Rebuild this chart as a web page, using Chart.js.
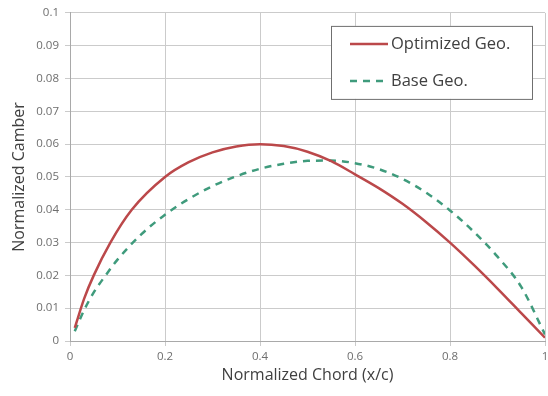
<!DOCTYPE html>
<html>
<head>
<meta charset="utf-8">
<script src="https://cdn.jsdelivr.net/npm/chart.js@4/dist/chart.umd.min.js"></script>
<style>
  html, body { margin: 0; padding: 0; background: #fff; }
  #wrap { width: 548px; height: 396px; }
</style>
</head>
<body>
<div id="wrap"><canvas id="camberChart"></canvas></div>
<script>
// chord positions (x/c) and camber values
var optX = [0.01, 0.03, 0.05, 0.085, 0.13, 0.2, 0.25, 0.3, 0.35, 0.4, 0.45, 0.5, 0.55, 0.6, 0.65, 0.7, 0.75, 0.8, 0.85, 0.9, 0.95, 1.0];
var optY = [0.004, 0.013, 0.020, 0.030, 0.040, 0.050, 0.0545, 0.0575, 0.0593, 0.060, 0.0594, 0.0577, 0.0548, 0.0508, 0.0466, 0.0418, 0.0362, 0.030, 0.0232, 0.0160, 0.0085, 0.001];

var baseX = [0.01, 0.03, 0.05, 0.075, 0.1, 0.15, 0.2, 0.25, 0.3, 0.35, 0.4, 0.45, 0.5, 0.55, 0.6, 0.65, 0.7, 0.75, 0.8, 0.85, 0.9, 0.95, 1.0];
var baseY = [0.003, 0.0095, 0.0148, 0.020, 0.0248, 0.0325, 0.0385, 0.0433, 0.0472, 0.0502, 0.0525, 0.054, 0.0549, 0.055, 0.0542, 0.0524, 0.0494, 0.0452, 0.0398, 0.0333, 0.0257, 0.0165, 0.002];

var seriesNames = ["Optimized Geo.", "Base Geo."];

var xTicks = [0, 0.2, 0.4, 0.6, 0.8, 1];
var xTickLabels = ["0", "0.2", "0.4", "0.6", "0.8", "1"];
var yTicks = [0, 0.01, 0.02, 0.03, 0.04, 0.05, 0.06, 0.07, 0.08, 0.09, 0.1];
var yTickLabels = ["0", "0.01", "0.02", "0.03", "0.04", "0.05", "0.06", "0.07", "0.08", "0.09", "0.1"];

function toPoints(xs, ys) {
    return xs.map(function (x, i) { return { x: x, y: ys[i] }; });
}

var FONT = "'Open Sans', 'Liberation Sans', sans-serif";
var gridColor = '#cbcbcb';

// boxed legend drawn inside the plot, upper right
var boxLegend = {
    id: 'boxLegend',
    afterDraw: function (chart) {
        var ctx = chart.ctx;
        var area = chart.chartArea;
        var right = area.right - 13, top = area.top + 13;
        var w = 201, h = 73;
        var left = right - w;
        ctx.save();
        ctx.fillStyle = '#fff';
        ctx.fillRect(left, top, w, h);
        ctx.strokeStyle = '#6f6f6f';
        ctx.lineWidth = 1;
        ctx.strokeRect(left + 0.5, top + 0.5, w, h);
        ctx.font = '16.5px ' + FONT;
        ctx.textBaseline = 'middle';
        chart.data.datasets.forEach(function (ds, i) {
            var y = top + 18 + i * 37;
            ctx.beginPath();
            ctx.strokeStyle = ds.borderColor;
            ctx.lineWidth = ds.borderWidth;
            ctx.setLineDash(ds.borderDash || []);
            ctx.moveTo(left + 19, y);
            ctx.lineTo(left + 57, y);
            ctx.stroke();
            ctx.setLineDash([]);
            ctx.fillStyle = '#404040';
            ctx.fillText(ds.label, left + 60, y);
        });
        ctx.restore();
    }
};

var chart = new Chart(document.getElementById('camberChart'), {
    type: 'scatter',
    data: {
        datasets: [{
            label: seriesNames[0],
            data: toPoints(optX, optY),
            showLine: true,
            borderColor: '#bb484a',
            borderWidth: 2.5,
            pointRadius: 0,
            cubicInterpolationMode: 'monotone'
        }, {
            label: seriesNames[1],
            data: toPoints(baseX, baseY),
            showLine: true,
            borderColor: '#3f9b7c',
            borderWidth: 2.5,
            borderDash: [7, 6],
            pointRadius: 0,
            cubicInterpolationMode: 'monotone'
        }]
    },
    options: {
        responsive: true,
        maintainAspectRatio: false,
        animation: false,
        layout: { padding: { left: 0, right: 3, top: 12, bottom: 0 } },
        plugins: {
            legend: { display: false },
            tooltip: { enabled: false }
        },
        scales: {
            x: {
                type: 'linear',
                min: 0,
                max: 1,
                afterBuildTicks: function (scale) {
                    scale.ticks = xTicks.map(function (v) { return { value: v }; });
                },
                afterFit: function (scale) {
                    scale.height = 55;
                    scale.paddingRight = 0;
                    scale.paddingLeft = 0;
                },
                ticks: {
                    callback: function (v) { return xTickLabels[xTicks.indexOf(v)]; },
                    color: '#6e6e6e',
                    font: { family: FONT, size: 11.5 },
                    padding: 4,
                    maxRotation: 0
                },
                grid: { color: gridColor, tickLength: 5 },
                border: { color: '#a9a9a9' },
                title: {
                    display: true,
                    text: 'Normalized Chord (x/c)',
                    color: '#404040',
                    font: { family: FONT, size: 16 },
                    padding: { top: 0, bottom: 11 }
                }
            },
            y: {
                min: 0,
                max: 0.1,
                afterBuildTicks: function (scale) {
                    scale.ticks = yTicks.map(function (v) { return { value: v }; });
                },
                afterFit: function (scale) { scale.width = 70; },
                ticks: {
                    callback: function (v) { return yTickLabels[yTicks.indexOf(v)]; },
                    color: '#6e6e6e',
                    font: { family: FONT, size: 11.5 },
                    padding: 6
                },
                grid: { color: gridColor, tickLength: 5 },
                border: { color: '#a9a9a9' },
                title: {
                    display: true,
                    text: 'Normalized Camber',
                    color: '#404040',
                    font: { family: FONT, size: 16 },
                    padding: { top: 10, bottom: 2 }
                }
            }
        }
    },
    plugins: [boxLegend]
});
</script>
</body>
</html>
